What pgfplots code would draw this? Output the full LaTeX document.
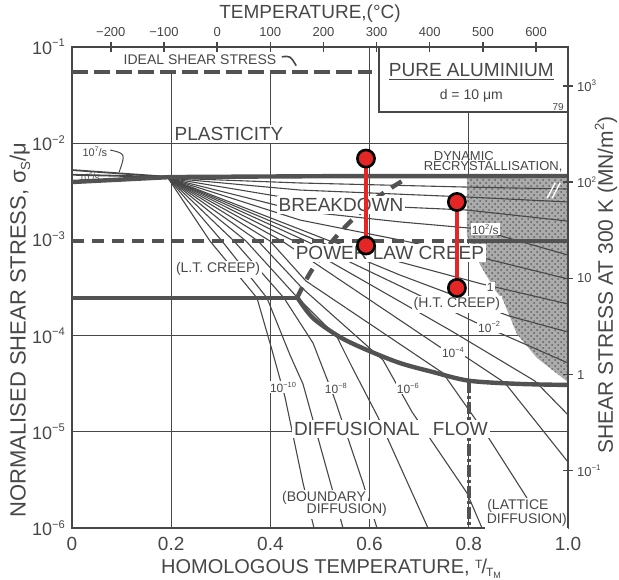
\documentclass[border=0pt]{standalone}
\usepackage{fontspec}
\setmainfont{Liberation Sans}
\usepackage{graphicx}
\usepackage{pgfplots}
\usetikzlibrary{patterns}
\pgfplotsset{compat=1.18}
\definecolor{ink}{gray}{0.28}
\definecolor{annred}{RGB}{228,38,38}
\newcommand{\fs}[1]{\fontsize{#1}{#1}\selectfont}
\newcommand{\ee}[1]{10\raisebox{0.42em}{\scalebox{0.62}{#1}}}
\tikzset{
  ctr/.style={ink, line width=0.55pt},
  bnd/.style={black!68, line width=2.2pt},
  grd/.style={ink, line width=0.5pt},
  lbl/.style={ink, fill=white, inner sep=1pt},
  clbl/.style={ink, fill=white, inner sep=0.6pt, font=\fs{6}},
}
\begin{document}
\begin{tikzpicture}
\path[use as bounding box] (-36pt,-25.5pt) rectangle (273.5pt,264pt);
\begin{axis}[
  at={(0pt,0pt)}, anchor=south west, scale only axis,
  width=248pt, height=240.5pt,
  xmin=0, xmax=1, ymin=1e-6, ymax=1e-1, ymode=log,
  xtick={0,0.2,0.4,0.6,0.8,1}, xticklabels={0,0.2,0.4,0.6,0.8,1.0},
  ytick={1e-6,1e-5,1e-4,1e-3,1e-2,1e-1},
  yticklabels={\ee{−6},\ee{−5},\ee{−4},\ee{−3},\ee{−2},\ee{−1}},
  major tick length=0pt, minor tick length=0pt, yminorticks=false,
  axis line style={ink, line width=1pt},
  xticklabel style={ink, font=\fs{9.5}, yshift=-1pt},
  yticklabel style={ink, font=\fs{9}},
]
% grid lines
\addplot[grd] coordinates {(0,1e-2) (1,1e-2)};
\addplot[grd] coordinates {(0,1e-4) (1,1e-4)};
\addplot[grd] coordinates {(0,1e-5) (1,1e-5)};
\addplot[grd] coordinates {(0.2,1e-6) (0.2,5.5e-2)};
\addplot[grd] coordinates {(0.4,1e-6) (0.4,5.5e-2)};
\addplot[grd] coordinates {(0.6,1e-6) (0.6,1e-1)};
\addplot[grd] coordinates {(0.8,1e-6) (0.8,2.11e-2)};
% dynamic recrystallisation field
\addplot[draw=none, fill=black!33] coordinates {(0.796,4.56e-3) (1.0,4.56e-3) (1.0,3.29e-5) (0.9375,5.85e-5) (0.897,1.04e-4) (0.869,2.34e-4) (0.853,2.98e-4) (0.823,5.42e-4) (0.796,1.11e-3) (0.796,4.56e-3)};
\addplot[draw=none, pattern=crosshatch dots, pattern color=black!62] coordinates {(0.796,4.56e-3) (1.0,4.56e-3) (1.0,3.29e-5) (0.9375,5.85e-5) (0.897,1.04e-4) (0.869,2.34e-4) (0.853,2.98e-4) (0.823,5.42e-4) (0.796,1.11e-3) (0.796,4.56e-3)};
% strain-rate contours
\addplot[ctr] coordinates {(0.1935,4.35e-3) (0.4597,3.86e-3) (0.7964,3.50e-3) (1.0,3.34e-3)};
\addplot[ctr] coordinates {(0.1935,4.35e-3) (0.4597,3.26e-3) (0.7964,2.76e-3) (1.0,2.45e-3)};
\addplot[ctr] coordinates {(0.1935,4.35e-3) (0.4597,2.57e-3) (0.6613,2.17e-3) (0.7964,2.02e-3) (1.0,1.55e-3)};
\addplot[ctr] coordinates {(0.1935,4.35e-3) (0.4597,1.97e-3) (0.6613,1.52e-3) (0.8024,1.31e-3) (0.8589,1.11e-3) (1.0,6.88e-4)};
\addplot[ctr] coordinates {(0.1935,4.35e-3) (0.4597,1.59e-3) (0.6613,9.86e-4) (0.8125,6.72e-4) (1.0,3.88e-4)};
\addplot[ctr] coordinates {(0.1935,4.35e-3) (0.5202,9.62e-4) (0.6613,5.82e-4) (0.8266,3.44e-4) (1.0,2.13e-4)};
\addplot[ctr] coordinates {(0.1935,4.35e-3) (0.496,9.62e-4) (0.6613,4.26e-4) (0.881,1.60e-4) (1.0,1.09e-4)};
\addplot[ctr] coordinates {(0.1935,4.35e-3) (0.4718,9.62e-4) (0.6613,3.28e-4) (0.8125,1.38e-4) (0.8629,1.06e-4) (1.0,5.19e-5)};
\addplot[ctr] coordinates {(0.1935,4.35e-3) (0.4476,9.62e-4) (0.7621,1.14e-4) (0.9335,3.37e-5) (1.0,1.50e-5)};
\addplot[ctr] coordinates {(0.1935,4.35e-3) (0.4234,9.62e-4) (0.7419,7.61e-5) (0.7944,5.99e-5) (0.873,3.22e-5) (1.0,4.85e-6)};
\addplot[ctr] coordinates {(0.1935,4.35e-3) (0.3992,9.62e-4) (0.4718,3.69e-4) (0.748,4.08e-5) (0.8427,8.22e-6) (0.9173,2.05e-6) (0.9597,1e-6)};
\addplot[ctr] coordinates {(0.1935,4.35e-3) (0.375,9.62e-4) (0.4637,3.13e-4) (0.627,5.58e-5) (0.6855,1.61e-5) (0.7964,2.31e-6) (0.8266,1e-6)};
\addplot[ctr] coordinates {(0.1935,4.35e-3) (0.3508,9.62e-4) (0.4516,2.58e-4) (0.5343,9.67e-5) (0.5645,4.72e-5) (0.6169,1.42e-5) (0.7177,1e-6)};
\addplot[ctr] coordinates {(0.1935,4.35e-3) (0.3266,9.62e-4) (0.4274,2.46e-4) (0.4859,8.38e-5) (0.5282,2.30e-5) (0.5867,2.94e-6) (0.6149,1e-6)};
\addplot[ctr] coordinates {(0.1935,4.35e-3) (0.3024,9.62e-4) (0.3931,2.46e-4) (0.4395,6.29e-5) (0.4657,3.14e-5) (0.5464,1e-6)};
\addplot[ctr] coordinates {(0.1935,4.35e-3) (0.2782,9.62e-4) (0.373,2.46e-4) (0.4032,7.08e-5) (0.4294,2.30e-5) (0.4657,2.94e-6) (0.4879,1e-6)};
% high-rate wedge
\addplot[ink, line width=0.9pt] coordinates {(0,5.26e-3) (0.2,4.45e-3)};
\addplot[ink, line width=0.9pt] coordinates {(0,4.70e-3) (0.2,4.45e-3)};
% field boundaries
\addplot[bnd] coordinates {(0,3.95e-3) (0.2,4.45e-3) (0.5,4.54e-3) (1.0,4.56e-3)};
\addplot[bnd, dash pattern=on 8pt off 3pt] coordinates {(0,5.5e-2) (0.605,5.5e-2)};
\addplot[bnd, dash pattern=on 6pt off 4pt] coordinates {(0,9.62e-4) (0.796,9.62e-4)};
\addplot[bnd] coordinates {(0.796,9.62e-4) (1.0,9.62e-4)};
\addplot[bnd] coordinates {(0,2.46e-4) (0.455,2.46e-4)};
\addplot[bnd, smooth, tension=0.5] coordinates {(0.455,2.46e-4) (0.486,1.52e-4) (0.540,9.67e-5) (0.595,7.08e-5) (0.661,5.19e-5) (0.728,4.18e-5) (0.8,3.4e-5) (0.9,3.15e-5) (1.0,3.07e-5)};
\addplot[bnd, smooth, tension=0.5, dash pattern=on 6pt off 4.5pt] coordinates {(0.4536,2.46e-4) (0.4798,4.47e-4) (0.520,8.96e-4) (0.5645,1.59e-3) (0.619,2.82e-3) (0.679,4.46e-3)};
\addplot[bnd, dash pattern=on 6pt off 1.5pt on 1.5pt off 1.5pt] coordinates {(0.8,3.4e-5) (0.8,1e-6)};
% annotation strokes
\draw[ink, line width=0.8pt] (axis cs:0.423,7.9e-2) .. controls (axis cs:0.44,8.1e-2) .. (axis cs:0.452,6.4e-2);
\draw[ink, line width=0.5pt] (axis cs:0.077,8.5e-3) .. controls (axis cs:0.108,7.8e-3) .. (axis cs:0.095,5.0e-3);
\draw[white, line width=0.7pt] (axis cs:0.958,2.69e-3) -- (axis cs:0.974,3.86e-3);
\draw[white, line width=0.7pt] (axis cs:0.968,2.69e-3) -- (axis cs:0.984,3.86e-3);
% title box
\draw[ink, line width=0.8pt, fill=white] (axis cs:0.619,2.11e-2) rectangle (axis cs:1,1e-1);
\node[ink, font=\fs{9.5}] at (axis cs:0.805,5.5e-2) {\underline{PURE ALUMINIUM}};
\node[ink, font=\fs{7}] at (axis cs:0.805,3.09e-2) {d = 10 μm};
\node[ink, font=\fs{5}] at (axis cs:0.98,2.4e-2) {79};
% region labels
\node[ink, font=\fs{7}, inner sep=0.5pt] at (axis cs:0.258,7.3e-2) {IDEAL SHEAR STRESS};
\node[lbl, font=\fs{9.5}] at (axis cs:0.3165,1.25e-2) {PLASTICITY};
\node[lbl, font=\fs{9.5}] at (axis cs:0.5423,2.28e-3) {BREAKDOWN};
\node[lbl, font=\fs{9.5}] at (axis cs:0.641,7.22e-4) {POWER LAW CREEP};
\node[lbl, font=\fs{7}] at (axis cs:0.2944,4.92e-4) {(L.T. CREEP)};
\node[lbl, font=\fs{7}] at (axis cs:0.776,2.13e-4) {(H.T. CREEP)};
\node[lbl, font=\fs{9.5}] at (axis cs:0.643,1.07e-5) {DIFFUSIONAL\hspace{0.7em}FLOW};
\node[lbl, font=\fs{7}] at (axis cs:0.508,2.05e-6) {(BOUNDARY};
\node[lbl, font=\fs{7}] at (axis cs:0.554,1.54e-6) {DIFFUSION)};
\node[lbl, font=\fs{7}] at (axis cs:0.899,1.69e-6) {(LATTICE};
\node[lbl, font=\fs{7}] at (axis cs:0.917,1.21e-6) {DIFFUSION)};
\node[ink, font=\fs{6.5}, inner sep=0.5pt] at (axis cs:0.790,7.36e-3) {DYNAMIC};
\node[ink, font=\fs{6.5}, inner sep=0.5pt] at (axis cs:0.849,5.66e-3) {RECRYSTALLISATION,};
% contour labels
\node[clbl] at (axis cs:0.4254,2.92e-5) {\ee{−10}};
\node[clbl] at (axis cs:0.532,2.85e-5) {\ee{−8}};
\node[clbl] at (axis cs:0.677,2.85e-5) {\ee{−6}};
\node[clbl] at (axis cs:0.768,6.75e-5) {\ee{−4}};
\node[clbl] at (axis cs:0.841,1.23e-4) {\ee{−2}};
\node[clbl] at (axis cs:0.843,3.2e-4) {1};
\node[clbl] at (axis cs:0.833,1.28e-3) {\ee{2}/s};
\node[ink, font=\fs{5.5}, inner sep=0.3pt] at (axis cs:0.046,8.1e-3) {\ee{7}/s};
\node[ink, font=\fs{4.5}, inner sep=0.2pt] at (axis cs:0.035,4.5e-3) {\ee{6}/s};
% red annotation markers
\addplot[annred, line width=2pt, mark=*, mark size=4.3pt, mark options={fill=annred, draw=black, line width=1.3pt}] coordinates {(0.5927,6.93e-3) (0.5927,8.64e-4)};
\addplot[annred, line width=2pt, mark=*, mark size=4.3pt, mark options={fill=annred, draw=black, line width=1.3pt}] coordinates {(0.776,2.45e-3) (0.776,3.13e-4)};
\end{axis}
\begin{axis}[
  at={(0pt,0pt)}, anchor=south west, scale only axis,
  width=248pt, height=240.5pt,
  axis x line*=top, axis y line*=right,
  xmin=-273, xmax=660, ymode=log, ymin=0.0254, ymax=2540,
  xtick={-200,-100,0,100,200,300,400,500,600},
  xticklabels={−200,−100,0,100,200,300,400,500,600},
  ytick={0.1,1,10,100,1000},
  yticklabels={\ee{−1},1,10,\ee{2},\ee{3}},
  yminorticks=false,
  tick align=center, major tick length=5pt,
  tick style={ink, line width=0.7pt},
  axis line style={ink, line width=1pt},
  xticklabel style={ink, font=\fs{6.5}, yshift=-1pt},
  yticklabel style={ink, font=\fs{6.5}, xshift=-1.5pt},
]
\addplot[draw=none] coordinates {(0,1)};
\end{axis}
\node[ink, font=\fs{10}] at (129.5pt,-20.3pt) {HOMOLOGOUS TEMPERATURE, \raisebox{2.5pt}{\fs{6}T}\kern-0.05em/\kern-0.05em\raisebox{-1.5pt}{\fs{6}T\raisebox{-1pt}{\fs{4.5}M}}};
\node[ink, font=\fs{11}, rotate=90] at (-26pt,99pt) {NORMALISED SHEAR STRESS, σ\raisebox{-0.2em}{\scalebox{0.6}{S}}/μ};
\node[ink, font=\fs{10.5}, rotate=90] at (267pt,121.5pt) {SHEAR STRESS AT 300 K (MN/m\raisebox{0.42em}{\scalebox{0.62}{2}})};
\node[ink, font=\fs{9.5}] at (119pt,257pt) {TEMPERATURE,(°C)};
\end{tikzpicture}
\end{document}
